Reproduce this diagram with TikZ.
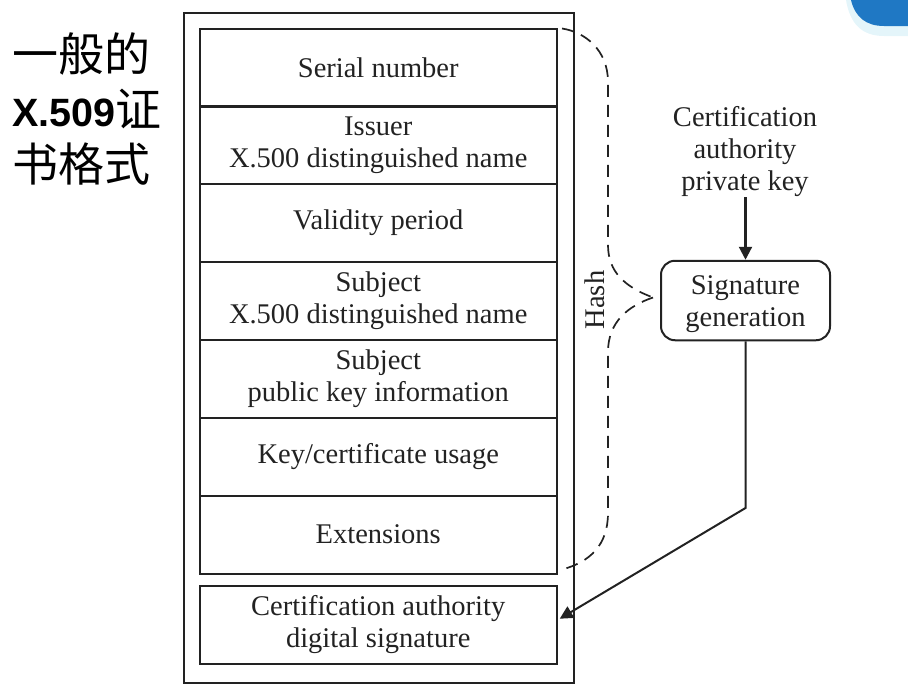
\documentclass[tikz,border=0pt]{standalone}
\usepackage{fontspec}
\setmainfont{Liberation Serif}
\newfontfamily\cjkf{Noto Sans CJK SC}
\newfontfamily\latinbf{Liberation Sans}[BoldFont={Liberation Sans Bold}]
\usetikzlibrary{arrows.meta,calc}
\definecolor{ink}{HTML}{222222}
\definecolor{cornerblue}{HTML}{1F78C4}
\definecolor{cornerpale}{HTML}{E4F5FA}
\tikzset{
  labelfont/.style={font=\fontsize{28.5}{32}\selectfont},
  field/.style={draw=ink,line width=2pt,minimum width=357.5pt,anchor=north west,inner sep=0pt,align=center,text=ink,labelfont},
  plain/.style={inner sep=0pt,align=center,text=ink,labelfont},
  hashline/.style={draw=ink,line width=1.7pt,dash pattern=on 12pt off 8pt},
  conn/.style={draw=ink,line width=2pt},
}
\begin{document}
\begin{tikzpicture}[x=1pt,y=-1pt]
\useasboundingbox (0,0) rectangle (908,691);
% decorative corner
\fill[cornerpale] (846,0) .. controls (850,24) and (862,36) .. (884,36) -- (908,36) -- (908,0) -- cycle;
\fill[cornerblue] (851,0) .. controls (855,17) and (866,26) .. (884,26) -- (908,26) -- (908,0) -- cycle;
% heading
\node[anchor=north west,inner sep=0pt,align=left,text=black,font=\fontsize{46}{55}\selectfont\cjkf] (title) at (12,32) {一般的\\{\fontsize{39.5}{55}\selectfont\latinbf\bfseries X.509}证\\书格式};
% outer
\node[draw=ink,line width=2pt,minimum width=390pt,minimum height=669.5pt,anchor=north west,inner sep=0pt] (outer) at (183,12) {};
% fields
\node[field,minimum height=78pt] (f1) at (198.5,27.5) {Serial number};
\node[field,minimum height=78pt] (f2) at (198.5,105) {Issuer\\X.500 distinguished name};
\node[field,minimum height=78pt] (f3) at (198.5,183) {Validity period};
\node[field,minimum height=78pt] (f4) at (198.5,261) {Subject\\X.500 distinguished name};
\node[field,minimum height=78pt] (f5) at (198.5,339) {Subject\\public key information};
\node[field,minimum height=78pt] (f6) at (198.5,416.5) {Key/certificate usage};
\node[field,minimum height=78pt] (f7) at (198.5,494.5) {Extensions};
\node[field,minimum height=78.5pt] (f8) at (198.5,584.5) {Certification authority\\digital signature};
% right
\node[plain] (ca) at (745,152) {Certification\\authority\\private key};
\node[draw=ink,line width=2pt,rounded corners=14pt,minimum width=169pt,minimum height=79.5pt,inner sep=0pt,align=center,text=ink,labelfont] (sg) at (745.5,300.5) {\rule{0pt}{27pt}Signature\\generation};
\node[plain,rotate=90] (hash) at (595,300) {Hash};
\coordinate (hub) at (653,297.5);
\coordinate (bend) at (745.5,508);
% connectors
\draw[conn,line width=2.2pt,-{Triangle[length=13pt,width=13pt]}] (ca.south -| sg.north) -- (sg.north);
\draw[conn,-{Triangle[length=13pt,width=13pt]},shorten >=2pt] (sg.south) -- (bend) -- ($(f8.east)+(0,-5)$);
\draw[hashline] ($(f1.north east)+(4,1)$) .. controls (585,32) and (608,50) .. (608,82) -- (608,245) .. controls (608,272) and (625,287) .. (hub);
\draw[hashline] (hub) .. controls (628,306) and (608,322) .. (608,352) -- (608,513) .. controls (608,545) and (590,562) .. ($(f7.south east)+(4,-5)$);
\end{tikzpicture}
\end{document}
